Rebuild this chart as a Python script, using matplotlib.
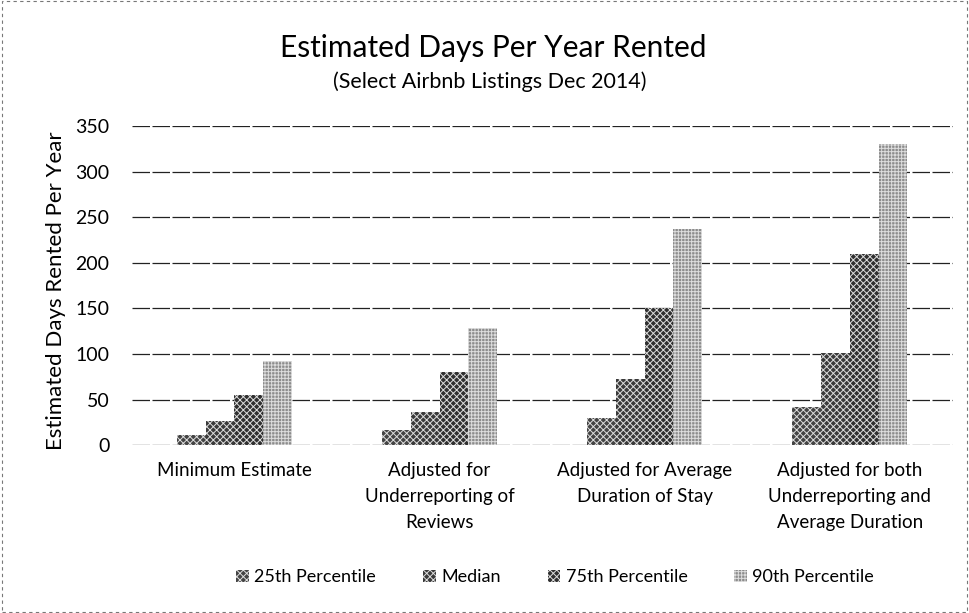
import matplotlib
matplotlib.use("Agg")
import matplotlib.pyplot as plt
import numpy as np

categories = ["Minimum Estimate",
              "Adjusted for\nUnderreporting of\nReviews",
              "Adjusted for Average\nDuration of Stay",
              "Adjusted for both\nUnderreporting and\nAverage Duration"]
series_names = ["25th Percentile", "Median", "75th Percentile", "90th Percentile"]
p25 = [11, 16, 30, 42]
median = [26, 36, 73, 101]
p75 = [55, 80, 151, 210]
p90 = [92, 128, 237, 331]
yticks = [0, 50, 100, 150, 200, 250, 300, 350]

plt.rcParams['font.family'] = ['Lato', 'DejaVu Sans']
plt.rcParams['hatch.linewidth'] = 0.7

fig = plt.figure(figsize=(9.69, 6.13), dpi=100)
ax = fig.add_axes([0.136, 0.274, 0.847, 0.520])

x = np.arange(len(categories))
w = 0.14
faces = ['#444444', '#3a3a3a', '#303030', '#8c8c8c']
hatches = ['xxxxx', 'xxxxx', 'xxxxx', '+++++']
for i, (vals, name) in enumerate(zip([p25, median, p75, p90], series_names)):
    ax.bar(x + (i - 1.5) * w, vals, w, color=faces[i], hatch=hatches[i],
           edgecolor='#dddddd', linewidth=0, label=name, zorder=3)

ax.set_xlim(-0.5, len(categories) - 0.5)
ax.set_ylim(0, 350)
ax.set_yticks(yticks)
ax.yaxis.grid(True, color='#222222', linewidth=0.9, linestyle=(0, (14, 2)))
ax.set_axisbelow(True)
for s in ax.spines.values():
    s.set_visible(False)
ax.tick_params(axis='both', length=0, labelsize=14)
ax.tick_params(axis='y', pad=16)
ax.set_xticks(x)
ax.set_xticklabels(categories, fontsize=13.5, linespacing=1.65)
ax.tick_params(axis='x', pad=12)
ax.set_ylabel("Estimated Days Rented Per Year", fontsize=16)
ax.yaxis.set_label_coords(-0.080, 0.485)

fig.text(0.509, 0.922, "Estimated Days Per Year Rented", ha='center', va='center', fontsize=21.5)
fig.text(0.505, 0.866, "(Select Airbnb Listings Dec 2014)", ha='center', va='center', fontsize=15.5)

fig.legend(loc='center', bbox_to_anchor=(0.573, 0.058), ncol=4, frameon=False,
           fontsize=13, handlelength=0.7, handleheight=0.7, columnspacing=2.6,
           handletextpad=0.3)

fig.patches.append(plt.Rectangle((0.002, 0.002), 0.996, 0.996, transform=fig.transFigure,
                                 fill=False, edgecolor='#777777', linewidth=0.8,
                                 linestyle=(0, (3, 3))))

fig.savefig("out.png", dpi=100)
